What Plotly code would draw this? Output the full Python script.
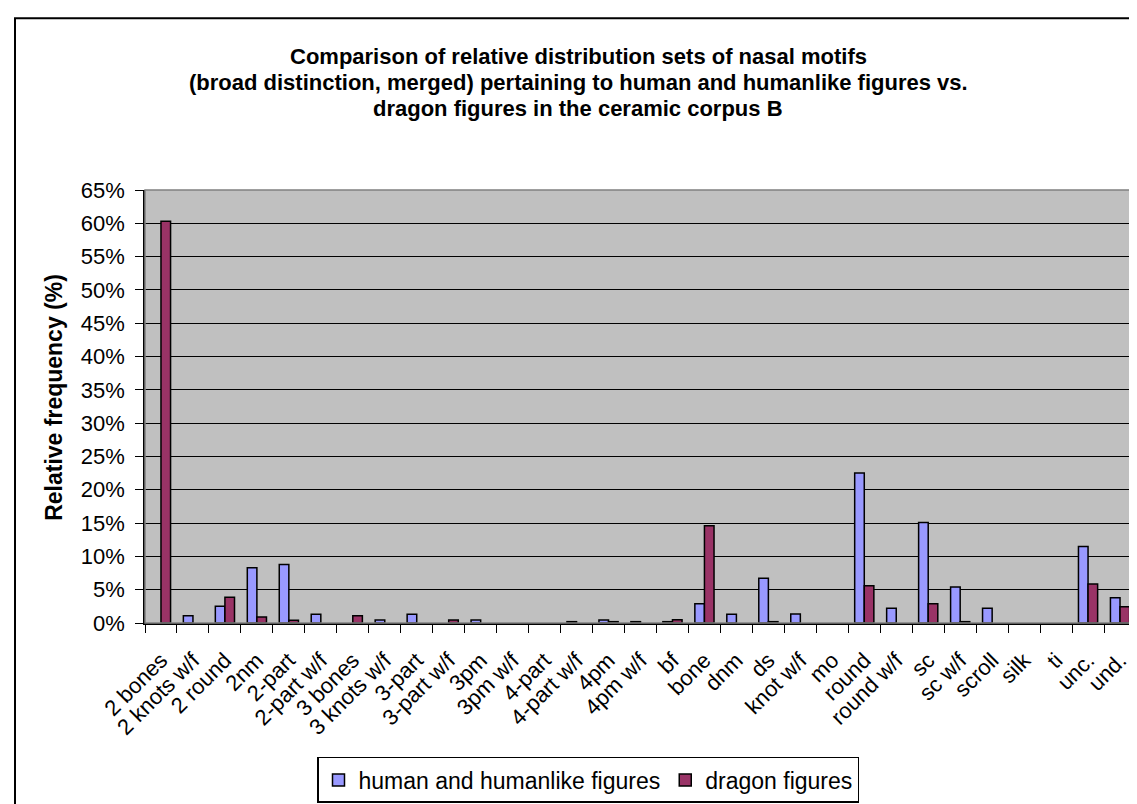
import plotly.graph_objects as go

categories = ["2 bones", "2 knots w/f", "2 round", "2nm", "2-part", "2-part w/f",
              "3 bones", "3 knots w/f", "3-part", "3-part w/f", "3pm", "3pm w/f",
              "4-part", "4-part w/f", "4pm", "4pm w/f", "bf", "bone", "dnm", "ds",
              "knot w/f", "mo", "round", "round w/f", "sc", "sc w/f", "scroll",
              "silk", "ti", "unc.", "und."]

human = [None, 1.1, 2.5, 8.3, 8.8, 1.3, None, 0.45, 1.3, None, 0.45, None,
         None, 0.2, 0.45, 0.2, 0.2, 2.9, 1.3, 6.7, 1.35, None, 22.5, 2.2,
         15.1, 5.4, 2.2, None, None, 11.5, 3.8]

dragon = [60.3, None, 3.85, 0.9, 0.4, None, 1.1, None, None, 0.45, None, None,
          None, None, 0.2, None, 0.5, 14.6, None, 0.2, None, None, 5.6, None,
          2.9, 0.2, None, None, None, 5.85, 2.45]

series_names = ["human and humanlike figures", "dragon figures"]
y_ticks = list(range(0, 70, 5))

FONT = "Liberation Sans, Arial, sans-serif"

fig = go.Figure()
fig.add_trace(go.Bar(x=categories, y=human, name=series_names[0],
                     marker=dict(color="#9999FF", line=dict(color="black", width=1.5))))
fig.add_trace(go.Bar(x=categories, y=dragon, name=series_names[1],
                     marker=dict(color="#993366", line=dict(color="black", width=1.5))))

L, R, T, B = 137, 9, 182, 176
W, H = 1137, 804
pw, ph = W - L - R, H - T - B

def px_x(p):
    return (p - L) / pw

def px_y(p):
    return (H - B - p) / ph

title_lines = ["Comparison of relative distribution sets of nasal motifs",
               "(broad distinction, merged) pertaining to human and humanlike figures vs.",
               "dragon figures in the ceramic corpus B"]
title_y = [44, 71, 98]
annotations = []
for t, yy in zip(title_lines, title_y):
    annotations.append(dict(text="<b>" + t + "</b>", x=px_x(570), y=px_y(yy),
                            xref="paper", yref="paper", showarrow=False,
                            xanchor="center", yanchor="middle",
                            font=dict(family=FONT, size=22, color="black")))
annotations.append(dict(text="<b>Relative frequency (%)</b>", x=px_x(46), y=0.52,
                        xref="paper", yref="paper", showarrow=False, textangle=-90,
                        xanchor="center", yanchor="middle",
                        font=dict(family=FONT, size=23, color="black")))

shapes = [
    # chart outer border
    dict(type="rect", xref="paper", yref="paper", x0=px_x(7), x1=px_x(1150),
         y0=px_y(820), y1=px_y(5), line=dict(color="black", width=2), layer="below"),
    # plot area border
    dict(type="rect", xref="paper", yref="paper", x0=0, x1=1, y0=0, y1=1,
         line=dict(color="#808080", width=1.5), layer="above"),
]

fig.update_layout(
    width=W, height=H,
    margin=dict(l=L, r=R, t=T, b=B, pad=0),
    paper_bgcolor="white", plot_bgcolor="#C0C0C0",
    barmode="group", bargap=0.4, bargroupgap=0,
    font=dict(family=FONT, size=22, color="black"),
    annotations=annotations, shapes=shapes,
    showlegend=True,
    legend=dict(orientation="h", x=px_x(580), y=px_y(766), xanchor="center", yanchor="top",
                bgcolor="white", bordercolor="black", borderwidth=1.5,
                font=dict(family=FONT, size=23, color="black"),
                itemwidth=30, traceorder="normal"),
)
fig.update_xaxes(type="category", tickangle=-45, tickson="boundaries", ticks="outside",
                 ticklen=8, tickcolor="black", showline=True, linecolor="black", linewidth=1.5,
                 showgrid=False, ticklabelstandoff=14,
                 tickfont=dict(family=FONT, size=22, color="black"))
fig.update_yaxes(range=[0, 65], tickvals=y_ticks, ticktext=[f"{v}%" for v in y_ticks],
                 ticks="outside", ticklen=8, tickcolor="black", showline=True,
                 linecolor="black", linewidth=1.5, showgrid=True, gridcolor="black",
                 gridwidth=1, zeroline=False, ticklabelstandoff=6,
                 tickfont=dict(family=FONT, size=22, color="black"))

fig.write_html("out.html")
